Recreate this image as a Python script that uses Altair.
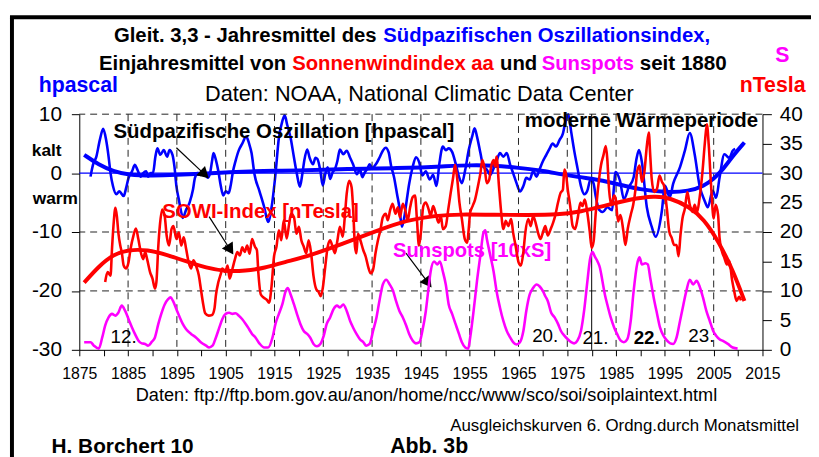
import math
import altair as alt
import pandas as pd

# ---------------- data ----------------
soi_years = [1877.3, 1877.8, 1878.5, 1879.2, 1879.9, 1880.5, 1881.0, 1881.4, 1881.9, 1882.6, 1883.2, 1884.1,
             1884.6, 1885.1, 1885.8, 1886.4, 1886.9, 1887.6, 1888.1, 1888.7, 1889.1, 1889.6, 1890.1, 1890.6,
             1891.0, 1891.6, 1892.3, 1893.0, 1893.5, 1894.1, 1894.5, 1894.9, 1895.4, 1895.9, 1896.2, 1896.9,
             1897.6, 1898.3, 1898.7, 1899.3, 1899.9, 1900.6, 1901.3, 1901.8, 1902.2, 1902.5, 1903.0, 1903.5,
             1904.0, 1904.5, 1905.0, 1905.6, 1906.0, 1906.5, 1907.0, 1907.7, 1908.4, 1909.2, 1909.8, 1910.3,
             1910.9, 1911.9, 1912.9, 1913.7, 1914.4, 1915.2, 1915.9, 1916.6, 1917.1, 1917.6, 1918.3, 1919.0,
             1919.6, 1920.2, 1920.7, 1921.1, 1921.7, 1922.2, 1922.9, 1923.4, 1923.8, 1924.4, 1924.9, 1925.4,
             1925.9, 1926.4, 1926.9, 1927.4, 1927.9, 1928.4, 1929.1, 1929.8, 1930.5, 1931.1, 1931.9, 1932.5,
             1933.0, 1933.5, 1934.0, 1934.5, 1935.1, 1935.5, 1936.0, 1936.5, 1937.2, 1937.8, 1938.4, 1938.9,
             1939.5, 1940.1, 1940.6, 1941.1, 1941.6, 1942.1, 1942.6, 1943.3, 1944.0, 1944.7, 1945.3, 1946.0,
             1946.8, 1947.5, 1948.2, 1948.8, 1949.5, 1950.1, 1950.7, 1951.4, 1952.1, 1952.8, 1953.4, 1954.1,
             1954.8, 1955.5, 1956.0, 1956.5, 1957.2, 1957.8, 1958.5, 1959.2, 1959.9, 1960.5, 1961.2, 1961.9,
             1962.6, 1963.3, 1963.9, 1964.6, 1965.3, 1966.0, 1966.6, 1967.3, 1968.0, 1968.7, 1969.3, 1970.0,
             1970.7, 1971.4, 1972.0, 1972.7, 1973.4, 1974.1, 1974.7, 1975.2, 1975.8, 1976.4, 1977.1, 1977.8,
             1978.5, 1979.1, 1979.8, 1980.4, 1980.8, 1981.5, 1982.3, 1983.2, 1984.2, 1984.5, 1984.9, 1985.8,
             1986.6, 1987.6, 1988.6, 1989.2, 1989.7, 1990.3, 1991.3, 1992.3, 1993.1, 1994.4, 1995.0, 1996.0,
             1996.7, 1998.1, 1999.1, 2000.1, 2001.1, 2002.1, 2003.1, 2003.8, 2004.8, 2005.5, 2006.2, 2007.2,
             2008.2, 2008.9, 2009.4]
soi_values = [-0.6, 1.4, 2.8, 5.6, 7.5, 5.6, 2.8, 0.0, -2.2, -3.6, -3.1, -3.9,
              -2.5, -0.8, 0.3, 1.4, 0.6, -0.6, 0.0, 0.3, -0.6, 0.0, 0.0, 2.8,
              4.2, 3.1, 3.9, 2.8, 3.9, 3.1, 1.1, -2.2, -4.5, -6.7, -7.6, -6.2,
              -5.0, -2.8, -0.8, 0.0, -0.3, 0.0, -0.8, 0.0, 2.0, 3.4, 2.2, 0.3,
              -2.2, -3.8, -3.1, -3.4, -2.2, 0.3, 2.0, 3.9, 5.0, 6.2, 5.0, 3.4,
              -0.2, -3.0, -5.8, -8.3, -5.8, -0.2, 6.0, 8.8, 9.8, 8.2, 6.0, 2.6,
              -0.2, -2.3, -0.2, 2.1, 4.0, 2.6, 1.5, 2.6, 2.4, 0.4, -2.1, -0.2,
              1.0, -1.0, 0.1, 0.7, 2.1, 4.0, 3.2, 3.8, 2.6, 1.5, -0.2, 0.7,
              -0.7, 0.1, 0.7, 1.5, 0.7, 1.2, 1.8, 2.6, 3.8, 4.3, 3.5, 1.2,
              -0.7, -3.5, -5.8, -9.1, -7.5, -4.6, -1.8, 1.0, 2.7, 1.7, -0.4, 0.3,
              -1.1, -0.3, -2.2, 1.7, 4.5, 3.9, 4.2, 3.6, 1.7, -0.6, -1.7, 0.6,
              3.9, 6.2, 7.6, 6.2, 3.4, 1.1, 0.6, -0.3, 0.8, 2.0, 3.4, 2.8,
              3.4, 1.4, 0.0, -1.7, -3.1, -2.2, -0.8, -1.1, 0.3, -0.6, 0.6, 2.0,
              3.1, 4.2, 5.0, 4.5, 5.6, 6.7, 9.0, 10.0, 7.0, 3.9, 0.8, -2.2,
              -3.6, -3.0, -1.0, -1.8, -3.8, -6.2, -6.6, -5.8, -6.3, -3.0, 0.2, -1.3,
              -4.4, -2.4, -0.7, 2.5, 3.9, 1.8, -5.8, -9.1, -10.8, -6.3, -2.1, -4.1,
              -1.8, 1.0, 3.8, 6.8, 3.2, -2.1, -4.6, -5.8, -3.0, -4.2, -0.8, 3.2,
              2.6, 3.8, 4.1]

soi_fit_years = [1876, 1879, 1882, 1885, 1890, 1895, 1900, 1905, 1910, 1915, 1920, 1925, 1930, 1935, 1940,
                 1945, 1950, 1955, 1960, 1965, 1970, 1975, 1980, 1985, 1990, 1995, 2000, 2003, 2005, 2007,
                 2009, 2011.3]
soi_fit_values = [3.1, 1.4, 0.3, -0.3, -0.45, -0.3, -0.1, 0.1, 0.3, 0.4, 0.45, 0.55, 0.7, 0.75, 0.85,
                  0.95, 1.15, 1.35, 1.3, 0.9, 0.4, -0.4, -0.9, -1.8, -2.8, -3.3, -3.1, -2.2, -1.0, 0.7,
                  3.0, 5.2]

aa_years = [1880.3, 1880.8, 1881.4, 1881.7, 1882.0, 1882.4, 1882.7, 1883.0, 1883.4, 1883.7, 1884.1, 1884.6,
            1885.1, 1885.5, 1886.1, 1886.6, 1887.1, 1887.6, 1888.1, 1888.5, 1888.9, 1889.5, 1890.0, 1890.5,
            1890.8, 1891.2, 1891.5, 1892.0, 1892.5, 1892.9, 1893.4, 1893.9, 1894.3, 1894.9, 1895.4, 1895.9,
            1896.4, 1896.9, 1897.4, 1897.9, 1898.4, 1898.9, 1899.5, 1899.9, 1900.3, 1900.8, 1901.5, 1902.2,
            1902.7, 1903.0, 1903.5, 1904.0, 1904.3, 1904.9, 1905.4, 1905.8, 1906.4, 1906.9, 1907.4, 1907.9,
            1908.4, 1908.9, 1909.4, 1909.9, 1910.4, 1911.0, 1911.4, 1911.7, 1912.2, 1912.9, 1913.4, 1913.9,
            1914.4, 1914.9, 1915.4, 1915.9, 1916.4, 1916.9, 1917.5, 1918.0, 1918.4, 1919.0, 1919.5, 1920.0,
            1920.5, 1921.0, 1921.5, 1922.0, 1922.5, 1923.0, 1923.6, 1924.0, 1924.5, 1924.9, 1925.4, 1925.9,
            1926.4, 1926.9, 1927.4, 1927.9, 1928.4, 1929.0, 1929.4, 1929.8, 1930.3, 1930.8, 1931.1, 1931.5,
            1931.8, 1932.1, 1932.6, 1933.2, 1933.7, 1934.2, 1934.7, 1935.2, 1935.7, 1936.2, 1936.7, 1937.2,
            1937.8, 1938.2, 1938.7, 1939.2, 1939.8, 1940.3, 1940.7, 1941.3, 1941.8, 1942.3, 1942.8, 1943.3,
            1943.8, 1944.2, 1944.6, 1945.0, 1945.5, 1946.0, 1946.6, 1947.0, 1947.5, 1948.0, 1948.6, 1949.1,
            1949.5, 1950.1, 1950.6, 1951.1, 1951.6, 1952.0, 1952.4, 1952.9, 1953.4, 1954.0, 1954.5, 1954.8,
            1955.1, 1955.6, 1956.1, 1956.7, 1957.2, 1957.6, 1958.1, 1958.5, 1959.0, 1959.4, 1959.9, 1960.2,
            1960.5, 1961.0, 1961.4, 1961.9, 1962.4, 1962.9, 1963.5, 1963.9, 1964.4, 1965.0, 1965.5, 1966.0,
            1966.4, 1967.0, 1967.5, 1968.0, 1968.5, 1969.0, 1969.5, 1970.0, 1970.5, 1971.0, 1971.6, 1972.1,
            1972.5, 1973.1, 1973.6, 1974.1, 1974.4, 1974.7, 1975.1, 1975.6, 1976.1, 1976.6, 1977.1, 1977.7,
            1978.1, 1978.6, 1979.1, 1979.6, 1980.0, 1980.4, 1980.8, 1981.3, 1981.9, 1982.4, 1982.9, 1983.2,
            1983.5, 1984.0, 1984.6, 1984.9, 1985.4, 1985.9, 1986.5, 1986.9, 1987.4, 1988.0, 1988.5, 1989.0,
            1989.3, 1989.8, 1990.3, 1990.8, 1991.3, 1991.7, 1992.0, 1992.3, 1992.8, 1993.4, 1993.9, 1994.4,
            1994.8, 1995.4, 1995.9, 1996.4, 1996.9, 1997.4, 1997.8, 1998.2, 1998.6, 1999.1, 1999.6, 2000.1,
            2000.7, 2001.1, 2001.6, 2002.1, 2002.7, 2003.2, 2003.6, 2004.0, 2004.5, 2005.0, 2005.4, 2005.9,
            2006.2, 2006.7, 2007.2, 2007.7, 2008.2, 2008.8, 2009.2, 2009.7, 2010.2, 2010.6]
aa_values = [11.5, 13.2, 12.6, 17.1, 21.0, 24.1, 22.7, 19.9, 17.7, 16.6, 14.3, 13.8,
             14.9, 17.1, 19.4, 20.6, 18.8, 16.6, 15.4, 16.6, 15.4, 13.2, 12.1, 10.4,
             11.5, 17.7, 21.0, 23.8, 22.7, 19.4, 17.7, 20.5, 21.0, 18.8, 19.9, 17.7,
             19.1, 17.1, 14.9, 13.8, 15.2, 14.3, 12.6, 10.4, 8.2, 6.2, 5.8, 5.9,
             7.0, 9.3, 11.5, 12.9, 13.8, 13.2, 14.3, 12.1, 13.8, 15.4, 16.6, 16.0,
             17.4, 16.6, 17.7, 16.3, 18.8, 17.5, 16.9, 13.0, 9.4, 8.8, 8.5, 8.0,
             10.8, 15.8, 17.5, 20.3, 18.6, 22.0, 18.9, 21.4, 23.1, 22.5, 19.7, 20.9,
             18.6, 17.5, 16.4, 18.6, 16.4, 12.5, 10.2, 9.9, 9.1, 10.5, 14.1, 17.5,
             18.6, 17.5, 16.4, 18.6, 20.9, 19.2, 22.5, 26.5, 28.7, 27.6, 24.2, 17.5,
             16.4, 19.7, 18.6, 16.9, 15.8, 14.1, 13.0, 13.6, 16.4, 18.6, 20.3, 22.5,
             23.1, 22.0, 23.7, 24.8, 23.1, 24.2, 22.5, 24.8, 23.7, 22.0, 24.2, 25.9,
             26.2, 22.0, 17.7, 19.9, 24.4, 25.0, 23.8, 22.7, 24.4, 23.3, 21.6, 22.7,
             20.5, 21.0, 23.8, 26.6, 29.2, 31.4, 29.4, 25.0, 22.2, 18.8, 18.2, 20.5,
             23.3, 24.4, 25.5, 27.8, 30.0, 32.2, 30.6, 28.3, 28.9, 31.1, 32.2, 31.1,
             32.8, 27.8, 23.8, 20.5, 21.9, 21.0, 22.2, 19.9, 17.7, 14.9, 14.3, 16.6,
             19.9, 22.2, 21.0, 22.7, 21.6, 19.9, 18.8, 19.9, 21.0, 19.4, 20.5, 21.6,
             22.7, 25.0, 26.6, 27.2, 30.6, 30.0, 27.2, 24.4, 21.0, 20.5, 22.2, 25.0,
             24.4, 25.5, 23.3, 20.1, 17.3, 18.4, 22.9, 27.4, 31.3, 33.0, 34.6, 32.4,
             27.9, 24.6, 26.2, 25.7, 21.8, 22.9, 20.1, 17.8, 20.6, 22.9, 24.6, 27.4,
             30.2, 31.3, 28.5, 30.2, 34.6, 36.9, 33.0, 29.0, 26.8, 27.4, 29.6, 28.5,
             27.9, 24.0, 20.1, 19.0, 17.8, 17.8, 15.9, 19.5, 22.3, 24.0, 26.8, 24.6,
             23.4, 24.6, 23.4, 25.7, 30.2, 35.2, 38.3, 34.6, 27.4, 22.3, 24.6, 22.9,
             19.0, 16.7, 15.6, 14.5, 15.1, 11.7, 10.0, 8.3, 9.0, 8.4]

aa_fit_years = [1876, 1879, 1882, 1885, 1889, 1893, 1897, 1901, 1905, 1909, 1913, 1917, 1922, 1929, 1936,
                1942, 1948, 1953, 1960, 1967, 1973, 1978, 1982, 1988, 1993, 1996, 2000, 2003, 2006, 2009,
                2011.3]
aa_fit_values = [11.4, 14.2, 16.2, 17.0, 17.0, 16.1, 15.0, 13.9, 13.3, 13.4, 13.9, 14.9, 15.9, 18.0, 20.2,
                 22.0, 22.8, 23.0, 22.9, 22.9, 22.9, 23.5, 24.3, 25.6, 26.1, 25.8, 24.3, 22.2, 18.4, 13.4,
                 8.3]

ss_years = [1876.0, 1877.3, 1878.0, 1879.0, 1879.7, 1880.3, 1881.0, 1881.7, 1882.4, 1883.0, 1883.7, 1884.4,
            1885.1, 1885.8, 1886.4, 1887.1, 1887.8, 1888.5, 1889.1, 1889.8, 1890.5, 1891.2, 1891.8, 1892.5,
            1893.2, 1893.7, 1894.2, 1894.9, 1895.6, 1896.2, 1896.9, 1897.9, 1898.9, 1899.9, 1901.0, 1901.6,
            1902.3, 1903.0, 1903.7, 1904.3, 1905.0, 1905.7, 1906.4, 1907.0, 1907.7, 1908.4, 1909.1, 1909.8,
            1910.4, 1911.1, 1911.9, 1912.9, 1913.7, 1914.6, 1915.2, 1915.9, 1916.6, 1917.3, 1917.7, 1918.3,
            1919.0, 1919.6, 1920.3, 1921.0, 1921.7, 1922.3, 1923.0, 1923.7, 1924.4, 1925.1, 1925.7, 1926.4,
            1927.1, 1927.8, 1928.4, 1929.1, 1929.8, 1930.5, 1931.1, 1931.8, 1932.5, 1933.2, 1933.8, 1934.5,
            1935.2, 1935.9, 1936.5, 1937.2, 1937.9, 1938.6, 1939.3, 1939.9, 1940.6, 1941.3, 1942.0, 1942.6,
            1943.3, 1944.0, 1944.7, 1945.3, 1946.0, 1946.5, 1947.0, 1947.7, 1948.4, 1948.9, 1949.5, 1950.1,
            1950.7, 1951.4, 1952.1, 1952.8, 1953.4, 1954.1, 1954.7, 1955.1, 1955.8, 1956.5, 1957.2, 1957.8,
            1958.2, 1958.5, 1959.2, 1959.9, 1960.5, 1961.2, 1961.9, 1962.6, 1963.3, 1963.9, 1964.6, 1965.3,
            1966.0, 1966.6, 1967.3, 1968.0, 1968.7, 1969.3, 1970.0, 1970.5, 1971.0, 1971.7, 1972.4, 1973.1,
            1973.7, 1974.4, 1975.1, 1975.8, 1976.4, 1977.1, 1977.8, 1978.5, 1979.1, 1979.7, 1980.2, 1980.6,
            1981.2, 1981.7, 1982.2, 1982.7, 1983.2, 1983.9, 1984.6, 1985.2, 1985.9, 1986.6, 1987.3, 1988.0,
            1988.6, 1989.3, 1989.8, 1990.3, 1991.0, 1991.5, 1992.0, 1992.7, 1993.4, 1994.0, 1994.7, 1995.4,
            1996.1, 1996.7, 1997.4, 1998.1, 1998.8, 1999.4, 2000.1, 2000.8, 2001.5, 2002.1, 2002.8, 2003.5,
            2004.2, 2004.9, 2005.5, 2006.2, 2006.9, 2007.9, 2008.9, 2009.9]
ss_values = [1.3, 1.3, 0.7, 0.2, 2.1, 4.1, 5.5, 6.1, 5.8, 6.3, 7.5, 6.6,
             5.2, 3.8, 2.7, 1.6, 1.1, 1.0, 0.7, 1.3, 2.1, 4.4, 6.1, 7.7,
             8.6, 8.9, 8.3, 6.9, 5.5, 4.4, 3.5, 2.7, 2.1, 1.3, 0.7, 0.4,
             0.7, 2.1, 3.8, 5.2, 6.1, 6.3, 6.1, 6.2, 5.8, 5.2, 4.4, 3.5,
             2.7, 2.1, 1.1, 0.4, 0.4, 2.1, 4.4, 6.1, 7.7, 10.0, 10.5, 9.4,
             7.7, 6.1, 4.4, 3.2, 2.7, 2.1, 1.0, 0.6, 1.0, 2.4, 4.4, 5.5,
             6.9, 7.5, 7.2, 7.7, 6.6, 4.9, 3.8, 2.7, 1.8, 1.3, 0.7, 1.0,
             3.2, 5.5, 8.3, 11.1, 11.9, 11.1, 10.0, 8.3, 6.6, 5.5, 4.1, 2.7,
             1.6, 1.1, 1.3, 3.2, 6.5, 10.0, 13.3, 15.0, 14.5, 15.0, 13.3, 11.1,
             7.7, 6.1, 4.4, 2.7, 1.3, 0.4, 0.2, 2.1, 6.6, 11.7, 16.1, 19.8,
             20.3, 18.9, 16.1, 13.3, 10.0, 7.2, 4.9, 3.2, 2.1, 1.3, 0.9, 1.3,
             3.2, 6.6, 9.4, 10.5, 11.1, 10.8, 10.0, 9.1, 8.3, 6.3, 5.5, 4.4,
             3.2, 2.4, 1.8, 1.3, 1.1, 1.6, 3.2, 7.0, 11.5, 15.6, 16.6, 15.9,
             15.0, 13.9, 11.7, 9.4, 7.7, 5.5, 3.8, 2.7, 1.6, 1.3, 1.8, 4.9,
             10.0, 14.5, 15.7, 14.5, 14.7, 14.5, 12.2, 8.9, 6.1, 3.8, 2.4, 1.6,
             1.1, 1.0, 2.1, 4.9, 7.7, 10.0, 11.9, 11.1, 11.7, 10.8, 8.9, 6.6,
             4.9, 3.2, 2.4, 1.8, 1.5, 1.0, 0.4, 0.2]

grid_years = [1885, 1895, 1905, 1915, 1925, 1935, 1945, 1955, 1965, 1975, 1985, 1995, 2005]
grid_values = [10, -10, -20]
marker_year = [1980]
x_ticks = list(range(1875, 2016, 5))
left_ticks = [-30, -20, -10, 0, 10]
right_ticks = [0, 5, 10, 15, 20, 25, 30, 35, 40]

# annotations inside the plot (left-axis units)
label_text = ["Südpazifische Oszillation [hpascal]", "moderne Wärmeperiode", "SOWI-Index [nTesla]",
              "Sunspots [10xS]", "12.", "20.", "21.", "22.", "23."]
label_year = [1882.0, 1966.3, 1892.0, 1939.3, 1881.4, 1967.8, 1978.1, 1988.6, 1999.8]
label_value = [6.0, 7.8, -7.7, -14.2, -28.9, -28.7, -29.0, -29.0, -28.7]
label_color = ["black", "black", "#FF0000", "#FF00FF", "black", "black", "black", "black", "black"]
label_weight = ["bold", "bold", "bold", "bold", "normal", "normal", "normal", "bold", "normal"]
label_size = [20.6, 20.6, 20.6, 20.4, 19, 19, 19, 19, 19]

arrow_x1 = [1894.9, 1901.6, 1941.95]
arrow_y1 = [4.3, -7.4, -13.6]
arrow_x2 = [1901.3, 1906.4, 1947.0]
arrow_y2 = [-0.7, -13.6, -19.2]

# ---------------- geometry ----------------
W, H = 690, 238
X0, X1 = 1875, 2015
YL0, YL1 = -30, 10
FONT = "Liberation Sans"
BLUE, RED, MAG = "#0000FF", "#FF0000", "#FF00FF"

xs = alt.Scale(domain=[X0, X1], nice=False, zero=False)
yl = alt.Scale(domain=[YL0, YL1], nice=False, zero=False)
yr = alt.Scale(domain=[0, 40], nice=False, zero=False)

x_axis = alt.Axis(values=x_ticks, format="d", labelExpr="datum.value % 10 == 5 ? datum.label : ''",
                  title=None, grid=False, tickSize=6, labelPadding=10, labelFontSize=16, labelFont=FONT,
                  labelColor="black", domainColor="black", tickColor="black", labelFlush=False,
                  labelOverlap=False)
yl_axis = alt.Axis(values=left_ticks, title=None, grid=False, tickSize=8, labelPadding=10, labelFontSize=21,
                   labelFont=FONT, labelColor="black", domainColor="black", tickColor="black",
                   labelFlush=False,
                   labelExpr="datum.value < 0 ? '-' + abs(datum.value) : '' + datum.value")
yr_axis = alt.Axis(values=right_ticks, orient="right", title=None, grid=False, tickSize=9, labelPadding=8,
                   labelFontSize=21, labelFont=FONT, labelColor="black", domainColor="black",
                   tickColor="black", labelFlush=False)

soi_df = pd.DataFrame({"year": soi_years, "v": soi_values})
soi_fit_df = pd.DataFrame({"year": soi_fit_years, "v": soi_fit_values})
aa_df = pd.DataFrame({"year": aa_years, "v": aa_values})
aa_fit_df = pd.DataFrame({"year": aa_fit_years, "v": aa_fit_values})
ss_df = pd.DataFrame({"year": ss_years, "v": ss_values})

one = pd.DataFrame({"a": [0]})


def X(field):
    return alt.X(field, scale=xs, axis=x_axis)


def YL(field):
    return alt.Y(field, scale=yl, axis=yl_axis)


def YR(field):
    return alt.Y(field, scale=yr, axis=yr_axis)


# grid
vgrid = alt.Chart(pd.DataFrame({"year": grid_years})).mark_rule(
    color="#222222", strokeWidth=1, strokeDash=[7, 5]).encode(x=X("year:Q"))
hgrid = alt.Chart(pd.DataFrame({"v": grid_values})).mark_rule(
    color="#222222", strokeWidth=1, strokeDash=[7, 5]).encode(y=YL("v:Q"))
marker = alt.Chart(pd.DataFrame({"year": marker_year})).mark_rule(color="black", strokeWidth=1).encode(
    x=X("year:Q"))
zero = alt.Chart(pd.DataFrame({"v": [0]})).mark_rule(color=BLUE, strokeWidth=1.2).encode(y=YL("v:Q"))

soi_line = alt.Chart(soi_df).mark_line(color=BLUE, strokeWidth=2.6, interpolate="monotone").encode(
    x=X("year:Q"), y=YL("v:Q"))
soi_fit = alt.Chart(soi_fit_df).mark_line(color=BLUE, strokeWidth=4, interpolate="basis").encode(
    x=X("year:Q"), y=YL("v:Q"))

# arrows
adf = pd.DataFrame({"x1": arrow_x1, "y1": arrow_y1, "x2": arrow_x2, "y2": arrow_y2})
px_per_year = W / (X1 - X0)
px_per_unit = H / (YL1 - YL0)
dxp = (adf.x2 - adf.x1) * px_per_year
dyp = -(adf.y2 - adf.y1) * px_per_unit
length = (dxp ** 2 + dyp ** 2) ** 0.5
adf["ang"] = [(math.degrees(math.atan2(a, -b)) + 360) % 360 for a, b in zip(dxp, dyp)]
back = 6.0
adf["hx"] = adf.x2 - dxp / length * back / px_per_year
adf["hy"] = adf.y2 + dyp / length * back / px_per_unit
arrow_lines = alt.Chart(adf).mark_rule(color="black", strokeWidth=1.2).encode(
    x=X("x1:Q"), y=YL("y1:Q"), x2="hx:Q", y2="hy:Q")
arrow_heads = alt.Chart(adf).mark_point(shape="triangle", filled=True, color="black", size=170,
                                        opacity=1).encode(
    x=X("hx:Q"), y=YL("hy:Q"), angle=alt.Angle("ang:Q", scale=None))

ldf = pd.DataFrame({"t": label_text, "year": label_year, "v": label_value, "c": label_color,
                    "w": label_weight, "s": label_size})
labels = []
for _, r in ldf.iterrows():
    labels.append(alt.Chart(pd.DataFrame([r])).mark_text(
        align="left", baseline="alphabetic", font=FONT, fontSize=float(r.s), fontWeight=r.w, color=r.c).encode(
        x=X("year:Q"), y=YL("v:Q"), text="t:N"))

# right axis group
aa_line = alt.Chart(aa_df).mark_line(color=RED, strokeWidth=2.6, interpolate="monotone").encode(
    x=X("year:Q"), y=YR("v:Q"))
aa_fit = alt.Chart(aa_fit_df).mark_line(color=RED, strokeWidth=4, interpolate="basis").encode(
    x=X("year:Q"), y=YR("v:Q"))
ss_line = alt.Chart(ss_df).mark_line(color=MAG, strokeWidth=2.6, interpolate="monotone").encode(
    x=X("year:Q"), y=YR("v:Q"))


# free text outside the plot (pixel positions relative to the plot origin)
def txt(s, x, y, size, color="black", weight="bold", align="left"):
    return alt.Chart(one).mark_text(text=s, align=align, baseline="alphabetic", font=FONT, fontSize=size,
                                    fontWeight=weight, color=color).encode(x=alt.value(x), y=alt.value(y))


texts = [
    txt("Gleit. 3,3 - Jahresmittel des ", 35, -73, 20.5),
    txt("Südpazifischen Oszillationsindex,", 307, -73, 20.5, BLUE),
    txt("Einjahresmittel von ", 20, -45, 20.5),
    txt("Sonnenwindindex aa", 215, -45, 20.5, RED),
    txt("und", 425, -45, 20.5),
    txt("Sunspots", 467, -45, 20.5, MAG),
    txt("seit 1880", 566, -45, 20.8),
    txt("Daten: NOAA, National Climatic Data Center", 127, -13, 21.9, weight="normal"),
    txt("hpascal", -41, -22, 21.5, BLUE),
    txt("S", 703, -53, 21.5, MAG),
    txt("nTesla", 667, -22, 21.5, RED),
    txt("kalt", -48, 42, 17.5),
    txt("warm", -47, 91, 17.5),
    txt("Daten: ftp://ftp.bom.gov.au/anon/home/ncc/www/sco/soi/soiplaintext.html", 57, 290, 18.3,
        weight="normal"),
    txt("Ausgleichskurven 6. Ordng.durch Monatsmittel", 727, 320, 17, weight="normal", align="right"),
    txt("H. Borchert 10", -28, 342, 21),
    txt("Abb. 3b", 314, 342, 21.5),
]

frame_v = alt.Chart(one).mark_rule(color="black", strokeWidth=4).encode(
    x=alt.value(-68), y=alt.value(-98), y2=alt.value(400))
frame_h = alt.Chart(one).mark_rule(color="black", strokeWidth=4).encode(
    x=alt.value(-70), x2=alt.value(800), y=alt.value(-98))

left_group = alt.layer(soi_line, vgrid, hgrid, marker, zero, soi_fit, arrow_lines, arrow_heads,
                       *labels, *texts, frame_v, frame_h)
right_group = alt.layer(aa_line, aa_fit, ss_line)

chart = alt.layer(left_group, right_group).resolve_scale(y="independent").properties(
    width=W, height=H,
    padding={"left": 72, "top": 105, "right": 49, "bottom": 106},
    autosize=alt.AutoSizeParams(type="none"),
    background="white",
).configure_view(stroke=None)

chart.save("out.html", embed_options={"renderer": "svg", "actions": False})
